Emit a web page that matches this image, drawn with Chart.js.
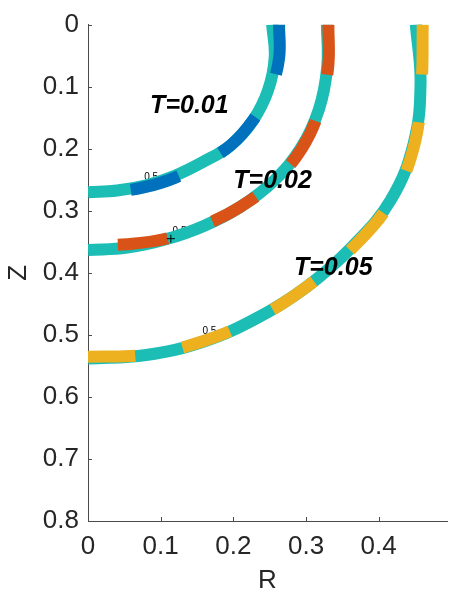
<!DOCTYPE html>
<html lang="en">
<head>
<meta charset="UTF-8">
<title>Contours</title>
<style>
  body { margin: 0; background: #fff; }
  canvas { display: block; }
</style>
</head>
<body>
<canvas id="myChart" width="452" height="598"></canvas>
<script src="https://cdn.jsdelivr.net/npm/chart.js"></script>
<script>
// 0.5 contour of the numerical solution, from the top (Z=0) down to the axis (R=0)
const num01R = [0.2534, 0.2569, 0.2477, 0.2271, 0.1967, 0.1580, 0.1196, 0.0802, 0.0401, 0.0000];
const num01Z = [0.0000, 0.0532, 0.1060, 0.1542, 0.1941, 0.2215, 0.2435, 0.2589, 0.2674, 0.2700];
const num02R = [0.3288, 0.3292, 0.3179, 0.2930, 0.2555, 0.2096, 0.1593, 0.1071, 0.0539, 0.0000];
const num02Z = [0.0000, 0.0682, 0.1361, 0.1989, 0.2521, 0.2937, 0.3244, 0.3460, 0.3595, 0.3634];
const num05R = [0.4511, 0.4576, 0.4481, 0.4166, 0.3632, 0.3013, 0.2323, 0.1583, 0.0799, 0.0000];
const num05Z = [0.0000, 0.0949, 0.1918, 0.2827, 0.3584, 0.4222, 0.4731, 0.5112, 0.5325, 0.5383];

// analytical front, same ordering
const ana01R = [0.2629, 0.2629, 0.2503, 0.2271, 0.1967, 0.1590, 0.1209, 0.0809, 0.0403, 0.0000];
const ana01Z = [0.0000, 0.0545, 0.1071, 0.1542, 0.1941, 0.2227, 0.2462, 0.2612, 0.2690, 0.2716];
const ana02R = [0.3308, 0.3305, 0.3186, 0.2942, 0.2560, 0.2096, 0.1590, 0.1069, 0.0531, 0.0000];
const ana02Z = [0.0000, 0.0685, 0.1363, 0.1997, 0.2526, 0.2937, 0.3237, 0.3452, 0.3540, 0.3554];
const ana05R = [0.4606, 0.4590, 0.4494, 0.4177, 0.3643, 0.3013, 0.2323, 0.1580, 0.0797, 0.0000];
const ana05Z = [0.0000, 0.0952, 0.1923, 0.2835, 0.3594, 0.4222, 0.4731, 0.5104, 0.5317, 0.5351];

// time labels
const timeText = ['T=0.01', 'T=0.02', 'T=0.05'];
const timeR = [0.1395, 0.254, 0.3375];
const timeZ = [0.131, 0.252, 0.3925];

// contour level labels
const levelText = ['0.5', '0.5', '0.5'];
const levelR = [0.087, 0.126, 0.167];
const levelZ = [0.246, 0.333, 0.495];
const plusR = [0.114];
const plusZ = [0.345];

const xTicks = [0, 0.1, 0.2, 0.3, 0.4];
const yTicks = [0, 0.1, 0.2, 0.3, 0.4, 0.5, 0.6, 0.7, 0.8];

const TEAL = '#1bbdb5';
const FONT = 'Liberation Sans, Arial, Helvetica, sans-serif';

const pts = (r, z) => r.map((v, i) => ({ x: v, y: z[i] }));

function dashed(r, z, color) {
  return {
    data: pts(r, z), borderColor: color, borderWidth: 12, borderDash: [50, 48],
    showLine: true, pointRadius: 0, tension: 0.4, fill: false
  };
}
function solid(r, z) {
  return {
    data: pts(r, z), borderColor: TEAL, borderWidth: 12,
    showLine: true, pointRadius: 0, tension: 0.4, fill: false
  };
}

// inward tick marks plus the text annotations
const decor = {
  id: 'decor',
  beforeDatasetsDraw(chart) {
    const { ctx, scales: { x, y } } = chart;
    ctx.save();
    ctx.fillStyle = '#000';
    ctx.font = '10px ' + FONT;
    ctx.textAlign = 'center';
    ctx.textBaseline = 'middle';
    levelText.forEach((t, i) => {
      ctx.fillText(t, x.getPixelForValue(levelR[i]), y.getPixelForValue(levelZ[i]));
    });
    ctx.restore();
  },
  afterDatasetsDraw(chart) {
    const { ctx, scales: { x, y } } = chart;
    ctx.save();
    ctx.fillStyle = '#000';
    ctx.font = 'italic bold 25px ' + FONT;
    ctx.textAlign = 'center';
    ctx.textBaseline = 'middle';
    timeText.forEach((t, i) => {
      ctx.fillText(t, x.getPixelForValue(timeR[i]), y.getPixelForValue(timeZ[i]));
    });
    ctx.restore();
  },
  afterDraw(chart) {
    const { ctx, chartArea: a, scales: { x, y } } = chart;
    ctx.save();
    ctx.strokeStyle = '#4a4a4a';
    ctx.lineWidth = 1;
    ctx.beginPath();
    yTicks.forEach(v => {
      const py = Math.round(y.getPixelForValue(v)) + 0.5;
      ctx.moveTo(a.left, py); ctx.lineTo(a.left + 4, py);
    });
    xTicks.forEach(v => {
      const px = Math.round(x.getPixelForValue(v)) + 0.5;
      ctx.moveTo(px, a.bottom); ctx.lineTo(px, a.bottom - 4);
    });
    ctx.stroke();
    ctx.restore();
  }
};

const fmt = v => String(+Number(v).toFixed(1));

new Chart(document.getElementById('myChart'), {
  type: 'scatter',
  data: {
    datasets: [
      {
        data: pts(plusR, plusZ), pointStyle: 'cross', pointRadius: 4,
        borderColor: '#000', borderWidth: 1, showLine: false
      },
      dashed(ana01R, ana01Z, '#0072BD'),
      dashed(ana02R, ana02Z, '#D95319'),
      dashed(ana05R, ana05Z, '#EDB120'),
      solid(num01R, num01Z),
      solid(num02R, num02Z),
      solid(num05R, num05Z)
    ]
  },
  options: {
    responsive: false,
    animation: false,
    layout: { padding: { top: 20, right: 0, left: 0, bottom: 0 } },
    plugins: { legend: { display: false }, tooltip: { enabled: false } },
    scales: {
      x: {
        type: 'linear', min: 0, max: 0.494,
        grid: { drawOnChartArea: false, drawTicks: false },
        border: { display: true, color: '#4a4a4a', width: 1 },
        afterBuildTicks: s => { s.ticks = xTicks.map(v => ({ value: v })); },
        afterFit: s => { s.height = 77; },
        ticks: { callback: fmt, padding: 10, color: '#262626', font: { family: FONT, size: 26 } },
        title: { display: true, text: 'R', color: '#262626', padding: { top: 0, bottom: 2 }, font: { family: FONT, size: 26 } }
      },
      y: {
        type: 'linear', min: 0, max: 0.8, reverse: true,
        grid: { drawOnChartArea: false, drawTicks: false },
        border: { display: true, color: '#4a4a4a', width: 1 },
        afterBuildTicks: s => { s.ticks = yTicks.map(v => ({ value: v })); },
        afterFit: s => { s.width = 88; },
        ticks: { callback: fmt, padding: 9, color: '#262626', font: { family: FONT, size: 26 } },
        title: { display: true, text: 'Z', color: '#262626', padding: { top: 3, bottom: 0 }, font: { family: FONT, size: 26 } }
      }
    }
  },
  plugins: [decor]
});
</script>
</body>
</html>
